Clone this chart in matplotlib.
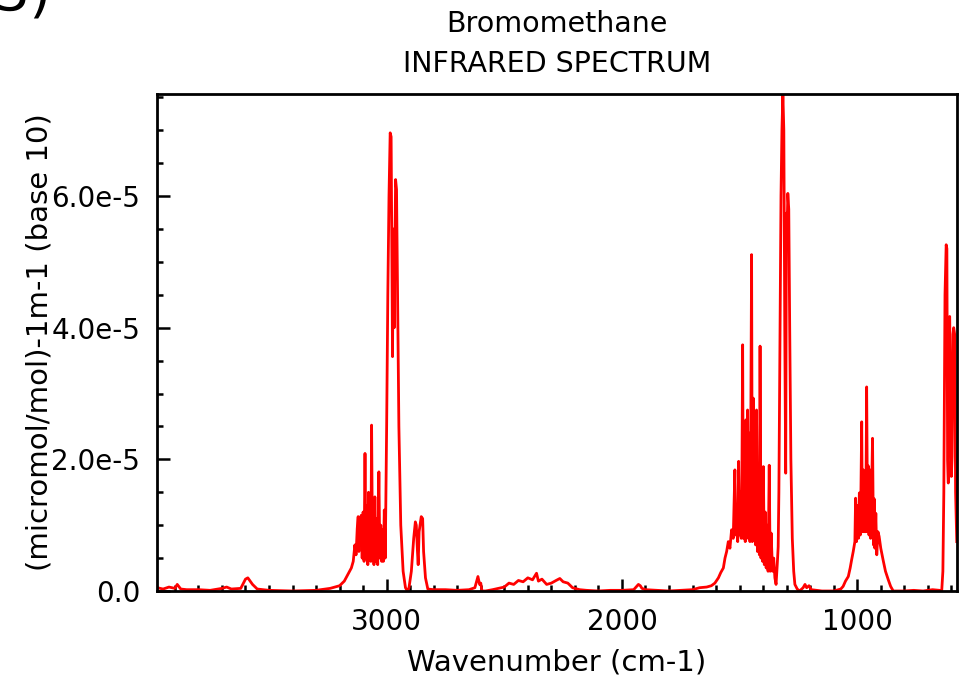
import numpy as np
import matplotlib
matplotlib.use("Agg")
import matplotlib.pyplot as plt
from matplotlib.ticker import MultipleLocator, FuncFormatter

# Espectro IR (numero de onda en cm-1, absorbancia en unidades de 1e-5)
wavenumber = [
    3975, 3950, 3925, 3900, 3890, 3875, 3850, 3800, 3750, 3700, 3680, 3660, 3620, 3600, 3590, 3570,
    3550, 3500, 3400, 3300, 3240, 3200, 3180, 3165, 3150, 3142, 3135, 3130, 3125, 3121, 3118, 3115,
    3112, 3108, 3104, 3100, 3096, 3092, 3088, 3084, 3080, 3077, 3074, 3070, 3067, 3064, 3060, 3057,
    3054, 3050, 3046, 3042, 3038, 3033, 3029, 3025, 3021, 3018, 3014, 3010, 3006, 3003, 3000, 2995,
    2990, 2985, 2981, 2977, 2975, 2972, 2968, 2962, 2958, 2954, 2948, 2940, 2930, 2920, 2912, 2905,
    2895, 2885, 2878, 2874, 2869, 2866, 2862, 2853, 2847, 2843, 2835, 2825, 2800, 2750, 2700, 2650,
    2625, 2612, 2605, 2600, 2595, 2580, 2550, 2500, 2480, 2460, 2440, 2420, 2400, 2380, 2363, 2355,
    2340, 2320, 2300, 2280, 2264, 2250, 2230, 2210, 2180, 2150, 2100, 2050, 2000, 1950, 1930, 1922,
    1915, 1900, 1850, 1800, 1750, 1700, 1670, 1640, 1620, 1605, 1590, 1580, 1569, 1562, 1555, 1548,
    1541, 1534, 1527, 1520, 1516, 1512, 1508, 1504, 1501, 1497, 1493, 1490, 1487, 1484, 1480, 1476,
    1473, 1470, 1466, 1463, 1460, 1456, 1453, 1449, 1446, 1442, 1439, 1435, 1432, 1428, 1424, 1420,
    1416, 1413, 1409, 1406, 1402, 1399, 1395, 1391, 1387, 1383, 1379, 1374, 1370, 1366, 1360, 1355,
    1350, 1345, 1340, 1336, 1333, 1328, 1324, 1320, 1316, 1312, 1308, 1304, 1301, 1298, 1295, 1291,
    1287, 1282, 1276, 1270, 1265, 1255, 1245, 1230, 1222, 1215, 1205, 1195, 1150, 1100, 1070, 1060,
    1050, 1038, 1030, 1024, 1017, 1010, 1007, 1003, 999, 995, 991, 987, 984, 981, 978, 974,
    971, 967, 964, 960, 956, 953, 950, 946, 943, 939, 935, 931, 928, 925, 921, 917,
    912, 907, 900, 890, 880, 868, 858, 847, 800, 760, 720, 680, 650, 641, 636, 632,
    627, 622, 619, 616, 613, 611, 607, 603, 600, 597, 593, 590, 586, 582, 577,
]
absorbance_e5 = [
    0.05, 0.03, 0.06, 0.04, 0.10, 0.03, 0.02, 0.02, 0.01, 0.04, 0.06, 0.03, 0.04, 0.18, 0.20, 0.10,
    0.03, 0.01, 0.00, 0.01, 0.04, 0.08, 0.15, 0.25, 0.35, 0.45, 0.70, 0.55, 0.95, 1.13, 0.60, 1.10,
    0.70, 1.15, 0.50, 1.20, 0.45, 2.09, 0.50, 1.30, 0.40, 1.50, 0.60, 1.20, 0.45, 2.52, 0.50, 1.40,
    0.40, 1.43, 0.45, 1.10, 0.40, 1.81, 0.50, 1.00, 0.45, 0.93, 0.45, 1.23, 0.50, 1.50, 2.50, 4.50,
    6.00, 6.96, 6.90, 4.50, 3.56, 5.50, 4.00, 6.25, 6.10, 4.60, 2.50, 1.00, 0.30, 0.05, 0.00, 0.05,
    0.30, 0.80, 1.05, 1.00, 0.60, 0.40, 0.90, 1.13, 1.10, 0.60, 0.20, 0.03, 0.02, 0.02, 0.01, 0.02,
    0.05, 0.22, 0.10, 0.12, 0.00, 0.00, 0.02, 0.06, 0.12, 0.10, 0.16, 0.14, 0.20, 0.17, 0.27, 0.15,
    0.18, 0.10, 0.12, 0.16, 0.19, 0.14, 0.12, 0.05, 0.02, 0.01, 0.00, 0.01, 0.01, 0.02, 0.10, 0.08,
    0.04, 0.02, 0.01, 0.00, 0.01, 0.02, 0.05, 0.06, 0.08, 0.12, 0.20, 0.28, 0.35, 0.50, 0.60, 0.75,
    0.65, 0.93, 0.80, 1.84, 0.85, 1.20, 0.75, 1.97, 0.85, 1.50, 0.80, 1.80, 3.74, 0.80, 2.20, 0.75,
    2.60, 0.85, 2.75, 0.80, 2.40, 0.75, 2.00, 5.11, 0.75, 2.93, 0.80, 2.50, 0.70, 2.75, 0.60, 1.80,
    0.55, 3.72, 0.50, 1.50, 0.45, 1.89, 0.40, 1.20, 0.35, 1.00, 0.30, 1.91, 0.30, 0.88, 0.30, 0.50,
    0.20, 0.10, 0.40, 0.67, 1.50, 4.00, 6.00, 7.00, 7.55, 7.00, 4.00, 1.79, 5.74, 5.50, 6.04, 5.80,
    4.00, 2.00, 0.80, 0.30, 0.10, 0.03, 0.00, 0.05, 0.10, 0.05, 0.08, 0.02, 0.00, 0.00, 0.03, 0.07,
    0.15, 0.22, 0.35, 0.47, 0.60, 0.75, 1.41, 0.75, 1.30, 0.80, 1.49, 0.85, 1.60, 2.57, 0.90, 1.84,
    0.90, 1.70, 0.90, 3.10, 0.90, 1.90, 0.85, 1.84, 0.80, 1.50, 2.32, 0.70, 1.40, 0.65, 1.18, 0.55,
    0.90, 0.83, 0.65, 0.47, 0.30, 0.17, 0.07, 0.00, 0.00, 0.01, 0.00, 0.02, 0.01, 0.00, 0.30, 1.50,
    4.50, 5.26, 5.20, 2.00, 1.64, 4.12, 4.17, 2.70, 1.74, 2.04, 3.90, 4.00, 3.90, 1.50, 0.75,
]

wn = np.array(wavenumber)
absorb = np.array(absorbance_e5) * 1e-5

fig = plt.figure(figsize=(9.64, 6.8), dpi=100)
ax = fig.add_axes([157 / 964, 1 - 591 / 680, 800 / 964, 497 / 680])

ax.plot(wn, absorb, color="red", lw=2)

ax.set_xlim(3976, 576)
ax.set_ylim(0, absorb.max())

ax.xaxis.set_major_locator(MultipleLocator(1000))
ax.xaxis.set_minor_locator(MultipleLocator(100))
ax.yaxis.set_major_locator(MultipleLocator(2e-5))
ax.yaxis.set_minor_locator(MultipleLocator(0.5e-5))
ax.yaxis.set_major_formatter(FuncFormatter(lambda v, p: "0.0" if v == 0 else f"{v / 1e-5:.1f}e-5"))

ax.tick_params(which="both", direction="in", top=False, right=False, labelsize=20, width=1.8)
ax.tick_params(which="major", length=9, pad=12)
ax.tick_params(which="minor", length=4)
for s in ax.spines.values():
    s.set_linewidth(2)

ax.set_xlabel("Wavenumber (cm-1)", fontsize=21, labelpad=9)
ax.set_ylabel("(micromol/mol)-1m-1 (base 10)", fontsize=21, labelpad=-1.5)
ax.set_title("Bromomethane\nINFRARED SPECTRUM", fontsize=20.5, pad=16, linespacing=1.55)

# etiqueta cortada arriba a la izquierda
fig.text(-0.005, 1 - 11 / 680, "5)", fontsize=40, va="baseline")

fig.savefig("out.png", dpi=100)
